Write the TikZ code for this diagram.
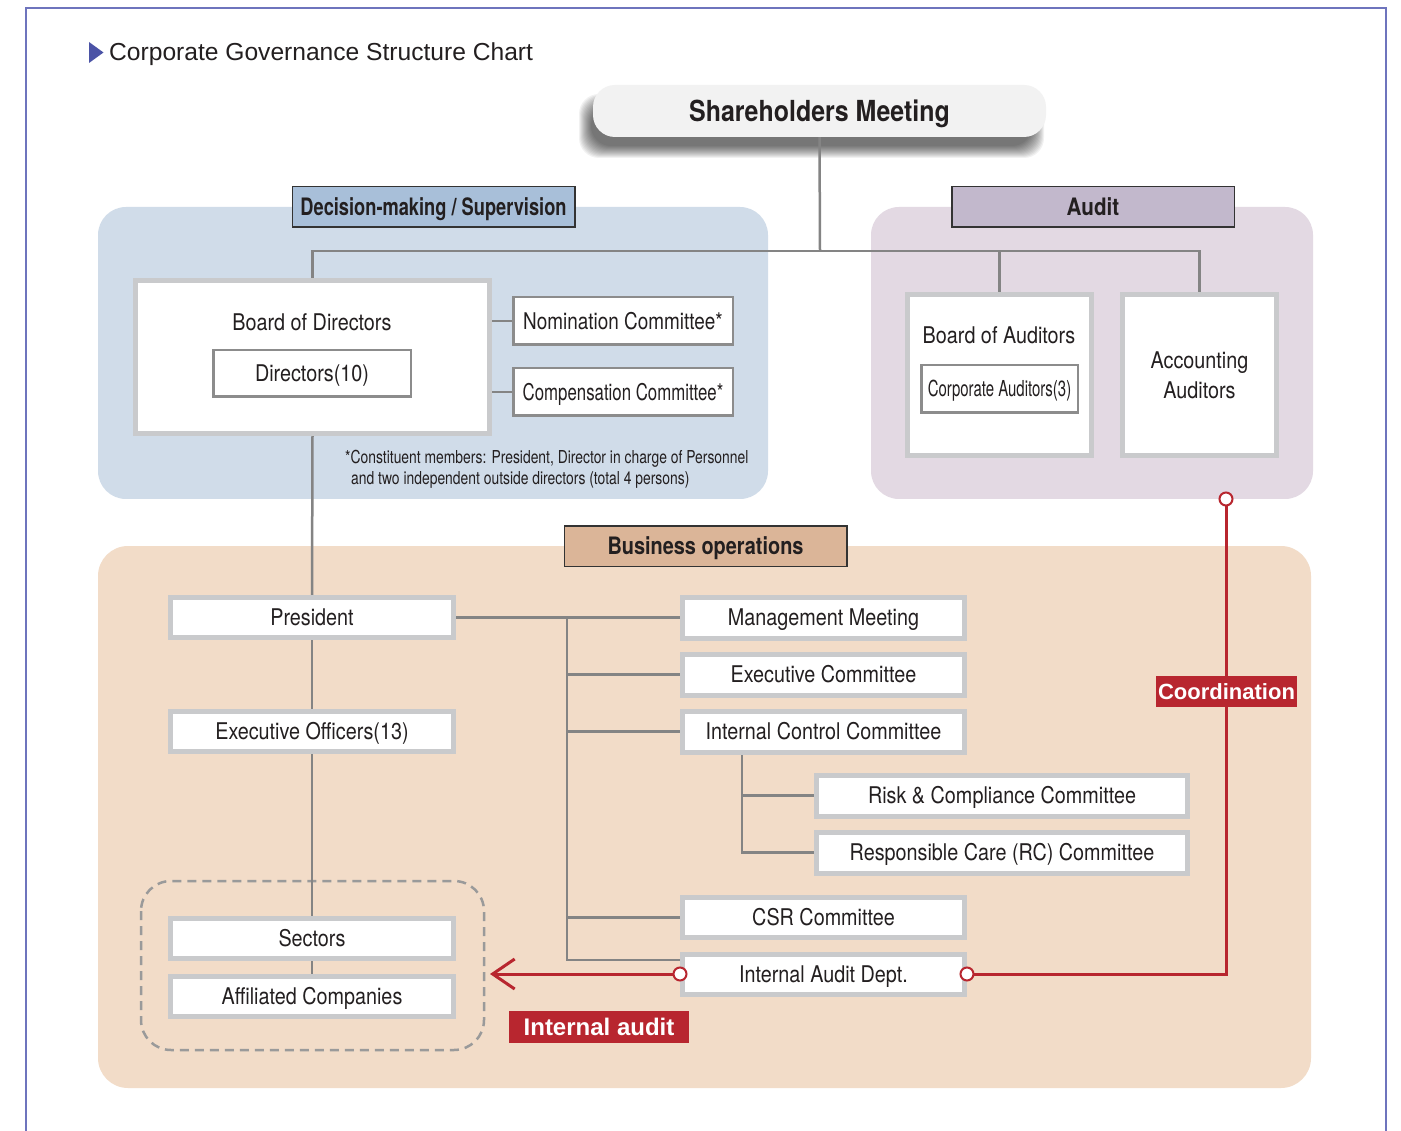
\documentclass[tikz,border=0pt]{standalone}
\usepackage{fontspec}
\usepackage{graphicx}
\setmainfont{TeX Gyre Heros}
\newfontfamily\cnA[FakeStretch=0.86]{TeX Gyre Heros}
\newfontfamily\cnB[FakeStretch=0.78]{TeX Gyre Heros}
\newfontfamily\cnC[FakeStretch=0.68]{TeX Gyre Heros}
\newfontfamily\arl{Liberation Sans}
\newcommand{\hsq}[2]{\scalebox{#1}[1]{#2}}
\usetikzlibrary{arrows.meta,calc}
\pgfdeclarelayer{back}
\pgfdeclarelayer{mid}
\pgfsetlayers{back,mid,main}
\definecolor{txt}{HTML}{231F20}
\definecolor{framec}{HTML}{6E74BD}
\definecolor{tri}{HTML}{4B53A6}
\definecolor{bluebg}{HTML}{D0DCE9}
\definecolor{purplebg}{HTML}{E3D9E3}
\definecolor{peachbg}{HTML}{F2DCC8}
\definecolor{dmfill}{HTML}{A8BFD9}
\definecolor{aufill}{HTML}{C2B8CC}
\definecolor{bofill}{HTML}{DBB598}
\definecolor{lightb}{HTML}{C9CACC}
\definecolor{midb}{HTML}{8C8C8C}
\definecolor{connc}{HTML}{848484}
\definecolor{dashc}{HTML}{9A9A9A}
\definecolor{redc}{HTML}{B8262F}
\definecolor{shfill}{HTML}{F2F2F2}
\tikzset{
  gboxbase/.style={draw=lightb, line width=5pt, fill=white, inner sep=0pt, text=txt,
    font=\cnA\fontsize{23}{28}\selectfont},
  gbox/.style={gboxbase, text height=16.5pt, text depth=0pt},
  ibox/.style={draw=midb, line width=2.5pt, fill=white, inner sep=0pt, text=txt,
    font=\cnA\fontsize{23}{28}\selectfont, text height=16.5pt, text depth=0pt},
  hdr/.style={draw=black!80, line width=1.5pt, inner sep=0pt, text=txt,
    minimum width=282.5pt, minimum height=40.5pt, text height=17.2pt, text depth=0pt,
    font=\cnA\bfseries\fontsize{24}{28}\selectfont},
  plain/.style={inner sep=0pt, text=txt, font=\cnA\fontsize{23}{28}\selectfont,
    text height=16.5pt, text depth=0pt},
  conn/.style={draw=connc, line width=2.5pt},
  redl/.style={draw=redc, line width=3pt},
  reddot/.style={circle, draw=redc, line width=2pt, fill=white, minimum size=13pt, inner sep=0pt},
  tag/.style={fill=redc, text=white, inner sep=0pt},
  softshadow/.style={fill=black, opacity=0.055, rounded corners=20pt},
}
\begin{document}
\begin{tikzpicture}[x=1pt,y=-1pt]
\useasboundingbox (0,0) rectangle (1401,1131);
\begin{pgfonlayer}{back}
\fill[white] (0,0) rectangle (1401,1131);
% frame
\draw[framec, line width=1.5pt] (26,1131) -- (26,8) -- (1386,8) -- (1386,1131);
% regions
\fill[bluebg, rounded corners=28pt] (98,207) rectangle (768,499);
\fill[purplebg, rounded corners=28pt] (871,207) rectangle (1313,499);
\fill[peachbg, rounded corners=30pt] (98,546) rectangle (1311,1088);
\draw[dashc, line width=2.5pt, dash pattern=on 9pt off 6pt, rounded corners=30pt] (141,881) rectangle (484,1050);
% soft shadow of the shareholders box
\foreach \e in {0,...,12} {
  \fill[softshadow] (579+\e,94+\e) rectangle (1044-\e,158-\e);
}
% shareholders
\node[fill=shfill, rounded corners=22pt, minimum width=453, minimum height=52, inner sep=0pt, text=txt,
  font=\cnA\bfseries\fontsize{29}{34}\selectfont, text height=20.8pt, text depth=0pt] (sh) at (819.5,111) {Shareholders Meeting};
\end{pgfonlayer}
% title
\fill[tri] (89,42) -- (103.5,52.5) -- (89,63) -- cycle;
\node[anchor=base west, inner sep=0pt, text=txt, font=\arl\fontsize{24.6}{29}\selectfont] (title) at (109,61) {Corporate Governance Structure Chart};
% headers
\node[hdr, fill=dmfill, font=\cnB\bfseries\fontsize{24}{28}\selectfont] (dm) at (433.5,207) {\hsq{0.975}{Decision-making / Supervision}};
\node[hdr, fill=aufill] (au) at (1093,207) {Audit};
\node[hdr, fill=bofill] (bo) at (705.5,546) {\hsq{0.965}{Business operations}};
% decision-making / supervision
\node[gbox, minimum width=354, minimum height=153] (bod) at (312.5,357) {};
\node[plain] (bodt) at (312,322) {Board of Directors};
\node[ibox, minimum width=197.5, minimum height=46.5] (dir) at (312,373.5) {Directors(10)};
\node[ibox, minimum width=219.5, minimum height=47.5] (nom) at (623,321) {\hsq{0.957}{Nomination Committee*}};
\node[ibox, minimum width=219.5, minimum height=47.5] (comp) at (623,392) {\hsq{0.85}{Compensation Committee*}};
\node[anchor=base west, inner sep=0pt, text=txt, font=\cnB\fontsize{17.8}{21}\selectfont] (fn1) at (345,464) {*Constituent members: President, Director in charge of Personnel};
\node[anchor=base west, inner sep=0pt, text=txt, font=\cnB\fontsize{17.8}{21}\selectfont] (fn2) at (351,485) {and two independent outside directors (total 4 persons)};
% audit
\node[gbox, minimum width=184, minimum height=161] (boa) at (999.5,375) {};
\node[plain] (boat) at (999,335) {Board of Auditors};
\node[ibox, minimum width=156.5, minimum height=47.5, font=\cnC\fontsize{22}{26}\selectfont, text height=15.8pt] (ca) at (999.5,389) {Corporate Auditors(3)};
\node[gboxbase, minimum width=154, minimum height=161, align=center, font=\cnA\fontsize{23}{30}\selectfont] (acc) at (1199.5,375) {Accounting\\Auditors};
% business operations
\node[gbox, minimum width=283, minimum height=40] (pres) at (312,617.5) {President};
\node[gbox, minimum width=283, minimum height=40] (eo) at (312,731.5) {Executive Officers(13)};
\node[gbox, minimum width=283, minimum height=40] (sec) at (312,938.5) {Sectors};
\node[gbox, minimum width=283, minimum height=40] (aff) at (312,996.5) {Affiliated Companies};
\node[gbox, minimum width=282, minimum height=41] (mm) at (823.5,617.5) {Management Meeting};
\node[gbox, minimum width=282, minimum height=41] (ec) at (823.5,674.5) {Executive Committee};
\node[gbox, minimum width=282, minimum height=41] (icc) at (823.5,731.5) {Internal Control Committee};
\node[gbox, minimum width=371, minimum height=41] (risk) at (1002,795.5) {Risk \& Compliance Committee};
\node[gbox, minimum width=371, minimum height=41] (rc) at (1002,852.5) {Responsible Care (RC) Committee};
\node[gbox, minimum width=282, minimum height=40] (csr) at (823.5,917.5) {CSR Committee};
\node[gbox, minimum width=282, minimum height=40] (iad) at (823.5,974) {Internal Audit Dept.};
% connectors (under the boxes)
\coordinate (jn) at (820,251);
\coordinate (tr) at (567,617.5);
\coordinate (trb) at (567,960);
\coordinate (st) at (742,755);
\begin{pgfonlayer}{mid}
\draw[conn] (sh.south) -- (jn);
\draw[conn] (bod.north) |- (jn) -| (acc.north);
\draw[conn] (boa.north) -- (boa.north |- jn);
\draw[conn] (bod.east |- nom.west) -- (nom.west);
\draw[conn] (bod.east |- comp.west) -- (comp.west);
\draw[conn] (bod.south) -- (pres.north);
\draw[conn] (pres.south) -- (eo.north);
\draw[conn] (eo.south) -- (sec.north);
\draw[conn] (sec.south) -- (aff.north);
\draw[conn] (pres.east) -- (mm.west);
\draw[conn] (tr) |- (ec.west);
\draw[conn] (tr) |- (icc.west);
\draw[conn] (tr) |- (csr.west);
\draw[conn] (tr) -- (trb) -- (trb -| iad.west);
\draw[conn] (st) |- (risk.west);
\draw[conn] (st) |- (rc.west);
\end{pgfonlayer}
% red connectors
\coordinate (cc) at (1226,499);
\coordinate (iatip) at (490,974);
\draw[redl] (iad.east) -| (cc);
\draw[redl, -{Straight Barb[length=22pt,width=30pt]}] (iad.west) -- (iatip);
\node[reddot] (d1) at (iad.west) {};
\node[reddot] (d2) at (iad.east) {};
\node[reddot] (d3) at (cc) {};
\node[tag, minimum width=141, minimum height=31, text height=15.8pt, text depth=0pt, font=\arl\bfseries\fontsize{22}{26}\selectfont] (coord) at (1226.5,691.5) {Coordination};
\node[tag, minimum width=180, minimum height=32, text height=17.2pt, text depth=0pt, font=\arl\bfseries\fontsize{24}{28}\selectfont] (ia) at (599,1026.5) {Internal audit};
\end{tikzpicture}
\end{document}
